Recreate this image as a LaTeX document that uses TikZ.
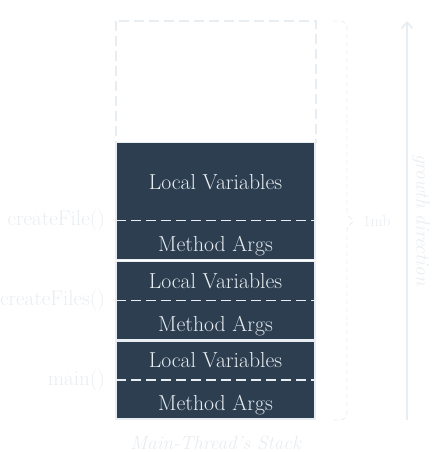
\documentclass[tikz,border=0pt]{standalone}
\usepackage{fontspec}
\usetikzlibrary{positioning,arrows.meta}
\definecolor{stackdark}{HTML}{2C3E50}
\definecolor{stackpale}{HTML}{E8EDF1}

\begin{document}
\begin{tikzpicture}[
	x=1bp, y=-1bp,
	every node/.style={font=\fontsize{21.8}{25}\selectfont, text=stackpale},
	varbox/.style={fill=stackdark, draw=none, outer sep=0pt, inner sep=0pt,
		minimum width=199bp, minimum height=39bp, text height=15bp, text depth=0pt},
	argbox/.style={varbox, text height=23bp},
	frameline/.style={stackpale, line width=1.2bp},
	sepline/.style={stackpale, line width=1.5bp, dash pattern=on 10bp off 5bp},
	caller/.style={inner sep=0pt, font=\fontsize{21.2}{25}\selectfont},
	bracket/.style={stackpale, line width=0.8bp, dash pattern=on 5bp off 3bp}
]
	\useasboundingbox (0,0) rectangle (434,452);
	% free space on top
	\draw[sepline] (116,21) rectangle (316,142.7);
	% frames
	\node[varbox, minimum height=78bp, anchor=north] (lv1) at (215.5,142.7) {Local Variables};
	\node[argbox, below=0pt of lv1] (ma1) {Method Args};
	\node[varbox, below=1.6bp of ma1] (lv2) {Local Variables};
	\node[argbox, below=0pt of lv2] (ma2) {Method Args};
	\node[varbox, below=1.6bp of ma2] (lv3) {Local Variables};
	\node[argbox, below=0pt of lv3] (ma3) {Method Args};
	\foreach \i in {1,...,3} {
		\draw[frameline] (lv\i.north west) rectangle (ma\i.south east);
		\draw[sepline] (lv\i.south west) -- (lv\i.south east);
	}
	% callers
	\node[caller, left=11bp of lv1.south west] (f1) {createFile()};
	\node[caller, left=11bp of lv2.south west] (f2) {createFiles()};
	\node[caller, left=11bp of lv3.south west] (f3) {main()};
	% size
	\coordinate (tip) at (354,221);
	\draw[bracket, rounded corners=7bp] (333,21) -- (347,21) -- (347,120);
	\draw[bracket, rounded corners=7bp] (333,420) -- (347,420) -- (347,320);
	\draw[bracket, rounded corners=2bp] (347,120) -- (347,215) -- (tip) -- (347,227) -- (347,320);
	\node[inner sep=0pt, anchor=west, font=\fontsize{16}{18}\selectfont] (size) at (363,221) {1mb};
	% growth
	\coordinate (grow0) at (407,420);
	\coordinate (grow1) at (407,21);
	\draw[stackpale, line width=1.8bp, -{Straight Barb[length=6bp,width=11bp]}] (grow0) -- (grow1);
	\node[rotate=-90, inner sep=0pt, font=\fontsize{19.4}{22}\selectfont\itshape] (growth) at (421,220) {growth direction};
	\node[inner sep=0pt, font=\fontsize{19.3}{22}\selectfont\itshape] (title) at (215.5,443) {Main-Thread's Stack};
\end{tikzpicture}
\end{document}
